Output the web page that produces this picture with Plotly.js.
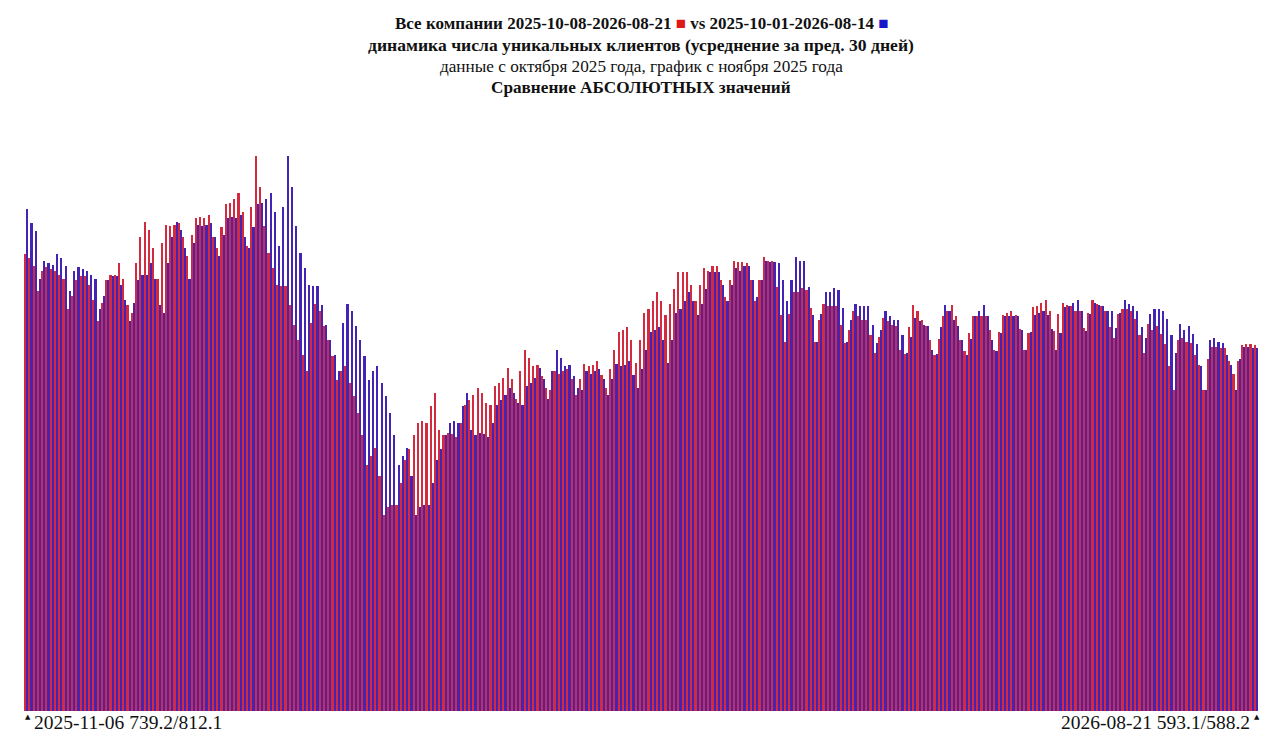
<!DOCTYPE html>
<html>
<head>
<meta charset="utf-8">
<script src="https://cdn.plot.ly/plotly-3.0.1.min.js"></script>
<style>
  html, body { margin: 0; padding: 0; background: #fff; }
  #chart { width: 1280px; height: 740px; }
</style>
</head>
<body>
<div id="chart"></div>
<script>
  // red: 2025-10-08..2026-08-21 window, plotted from 2025-11-06
  var redValues = [
    739.2, 733, 720, 680, 712, 718, 716, 712, 706, 700,
    650, 672, 698, 704, 704, 690, 665, 632, 660, 698,
    705, 705, 725, 700, 658, 645, 725, 768, 791, 778,
    750, 700, 758, 787, 785, 786, 790, 767, 737, 771,
    798, 799, 798, 803, 767, 749, 783, 820, 822, 828,
    839, 808, 752, 816, 899, 849, 785, 741, 717, 690,
    688, 688, 658, 625, 601, 577, 550, 628, 659, 648,
    624, 601, 574, 536, 550, 559, 531, 510, 482, 446,
    399, 412, 426, 380, 318, 331, 334, 334, 369, 407,
    424, 446, 466, 470, 467, 494, 514, 455, 447, 450,
    448, 444, 467, 496, 504, 512, 523, 514, 498, 495,
    526, 531, 539, 555, 537, 505, 551, 584, 571, 558,
    560, 543, 523, 520, 551, 546, 551, 553, 537, 512,
    537, 562, 559, 560, 566, 544, 523, 553, 584, 614,
    617, 621, 600, 563, 601, 645, 651, 663, 679, 663,
    641, 659, 683, 710, 710, 710, 689, 663, 689, 717,
    713, 720, 721, 697, 670, 697, 729, 726, 726, 725,
    697, 663, 697, 735, 728, 728, 687, 641, 598, 643,
    679, 679, 684, 681, 653, 598, 633, 659, 655, 655,
    655, 625, 595, 617, 647, 640, 633, 633, 608, 579,
    605, 636, 631, 625, 624, 585, 578, 622, 658, 648,
    633, 624, 601, 577, 602, 639, 647, 657, 639, 601,
    582, 612, 640, 639, 639, 639, 617, 585, 613, 641,
    645, 647, 641, 618, 585, 612, 654, 656, 661, 665,
    648, 615, 643, 661, 658, 655, 647, 647, 620, 644,
    666, 659, 655, 647, 622, 603, 643, 650, 651, 647,
    634, 609, 580, 626, 617, 623, 610, 594, 558, 519,
    601, 604, 597, 596, 577, 560, 519, 570, 590, 590,
    588, 588.2, 567, 545, 567, 593, 594, 594, 593.1
  ];

  // blue: 2025-10-01..2026-08-14 window (one week earlier)
  var blueValues = [
    812.1, 790, 777, 700, 729, 725, 722,
    739.2, 733, 720, 680, 712, 718, 716, 712, 706, 700,
    650, 672, 698, 704, 704, 690, 665, 632, 660, 698,
    705, 705, 725, 700, 658, 645, 725, 768, 791, 778,
    750, 700, 758, 787, 785, 786, 790, 767, 737, 771,
    798, 799, 798, 803, 767, 749, 783, 820, 822, 828,
    839, 808, 752, 816, 899, 849, 785, 741, 717, 690,
    688, 688, 658, 625, 601, 577, 550, 628, 659, 648,
    624, 601, 574, 536, 550, 559, 531, 510, 482, 446,
    399, 412, 426, 380, 318, 331, 334, 334, 369, 407,
    424, 446, 466, 470, 467, 494, 514, 455, 447, 450,
    448, 444, 467, 496, 504, 512, 523, 514, 498, 495,
    526, 531, 539, 555, 537, 505, 551, 584, 571, 558,
    560, 543, 523, 520, 551, 546, 551, 553, 537, 512,
    537, 562, 559, 560, 566, 544, 523, 553, 584, 614,
    617, 621, 600, 563, 601, 645, 651, 663, 679, 663,
    641, 659, 683, 710, 710, 710, 689, 663, 689, 717,
    713, 720, 721, 697, 670, 697, 729, 726, 726, 725,
    697, 663, 697, 735, 728, 728, 687, 641, 598, 643,
    679, 679, 684, 681, 653, 598, 633, 659, 655, 655,
    655, 625, 595, 617, 647, 640, 633, 633, 608, 579,
    605, 636, 631, 625, 624, 585, 578, 622, 658, 648,
    633, 624, 601, 577, 602, 639, 647, 657, 639, 601,
    582, 612, 640, 639, 639, 639, 617, 585, 613, 641,
    645, 647, 641, 618, 585, 612, 654, 656, 661, 665,
    648, 615, 643, 661, 658, 655, 647, 647, 620, 644,
    666, 659, 655, 647, 622, 603, 643, 650, 651, 647,
    634, 609, 580, 626, 617, 623, 610, 594, 558, 519,
    601, 604, 597, 596, 577, 560, 519, 570, 590, 590,
    588, 588.2
  ];

  var firstDate = "2025-11-06";
  var lastDate = "2026-08-21";
  var redLabel = "2025-10-08-2026-08-21";
  var blueLabel = "2025-10-01-2026-08-14";

  // bar colours are a bit mixed so the packed bars read purple like the original
  var RED = "#d32a40";
  var BLUE = "#4424b4";
  var FONT = "Liberation Serif, Times New Roman, serif";

  var days = redValues.map(function (v, i) { return i; });

  // plot area is 155..711 px from the top
  function py(px) { return (711 - px) / 556; }

  var traces = [
    { type: "bar", x: days, y: redValues, name: redLabel,
      marker: { color: RED, line: { width: 0 } }, hoverinfo: "y" },
    { type: "bar", x: days, y: blueValues, name: blueLabel,
      marker: { color: BLUE, line: { width: 0 } }, hoverinfo: "y" }
  ];

  function line(text, ypx, size) {
    return {
      xref: "paper", yref: "paper", x: 0.5, y: py(ypx),
      xanchor: "center", yanchor: "middle", showarrow: false,
      text: text, font: { family: FONT, size: size, color: "#111" }
    };
  }

  var fmt = function (v) { return v.toFixed(1); };
  var n = redValues.length - 1;

  var annotations = [
    line("<b>Все компании " + redLabel + " <span style='color:#e01818'>■</span> vs " +
         blueLabel + " <span style='color:#1818c8'>■</span></b>", 24, 17),
    line("<b>динамика числа уникальных клиентов (усреднение за пред. 30 дней)</b>", 45, 17.6),
    line("данные с октября 2025 года, график с ноября 2025 года", 66, 17.2),
    line("<b>Сравнение АБСОЛЮТНЫХ значений</b>", 87, 17.2),
    {
      xref: "paper", yref: "paper", x: 0.0068, y: py(722.5),
      xanchor: "left", yanchor: "middle", showarrow: false,
      text: firstDate + " " + fmt(redValues[0]) + "/" + fmt(blueValues[0]),
      font: { family: FONT, size: 19.5, color: "#111" }
    },
    {
      xref: "paper", yref: "paper", x: 0.9955, y: py(722.5),
      xanchor: "right", yanchor: "middle", showarrow: false,
      text: lastDate + " " + fmt(redValues[n]) + "/" + fmt(blueValues[n]),
      font: { family: FONT, size: 19.5, color: "#111" }
    },
    {
      xref: "paper", yref: "paper", x: 0.003, y: py(717),
      xanchor: "center", yanchor: "middle", showarrow: false,
      text: "▲", font: { family: "DejaVu Sans", size: 7, color: "#111" }
    },
    {
      xref: "paper", yref: "paper", x: 0.9995, y: py(717),
      xanchor: "center", yanchor: "middle", showarrow: false,
      text: "▲", font: { family: "DejaVu Sans", size: 7, color: "#111" }
    }
  ];

  var layout = {
    width: 1280, height: 740,
    margin: { l: 24, r: 22, t: 155, b: 29, pad: 0 },
    paper_bgcolor: "#fff", plot_bgcolor: "#fff",
    showlegend: false,
    barmode: "group", bargap: 0, bargroupgap: 0,
    xaxis: { range: [-0.5, n + 0.5], visible: false, fixedrange: true },
    yaxis: { range: [0, 900], visible: false, fixedrange: true },
    annotations: annotations
  };

  Plotly.newPlot("chart", traces, layout, { displayModeBar: false, staticPlot: true });
</script>
</body>
</html>
